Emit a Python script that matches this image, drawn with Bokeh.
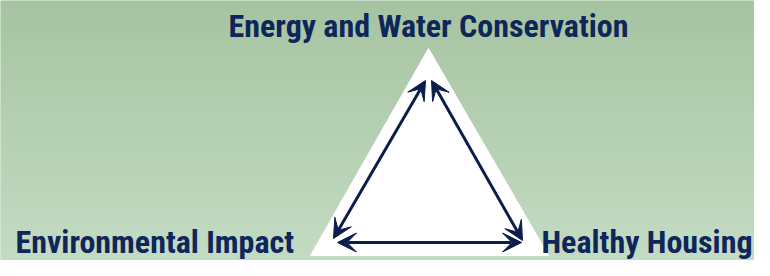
import numpy as np
from bokeh.plotting import figure
from bokeh.models import Range1d, Arrow, VeeHead, ColumnDataSource
from bokeh.core.properties import value
from bokeh.embed import file_html
from bokeh.resources import INLINE

# Diagram data (pixel coordinates of the diagram)
labels = ["Energy and Water Conservation", "Environmental Impact", "Healthy Housing"]
label_x = [428, 15, 752]
label_y = [36, 252, 252]
label_align = ["center", "left", "right"]

tri_x = [428, 310, 548]
tri_y = [48, 255, 255]

arrow_x0 = [333, 431, 337]
arrow_y0 = [238, 80, 242]
arrow_x1 = [425, 522, 521]
arrow_y1 = [80, 240, 242]

W, H = 754, 260
p = figure(width=W, height=H, x_range=Range1d(0, W), y_range=Range1d(H, 0),
           output_backend="svg", toolbar_location=None, min_border=0)
p.axis.visible = False
p.grid.visible = False
p.outline_line_color = None
p.background_fill_color = "#b5d0b2"
p.border_fill_color = "#b5d0b2"

# vertical gradient background
top = np.array([0xa6, 0xc4, 0xa1], dtype=float)
bot = np.array([0xc6, 0xdd, 0xc6], dtype=float)
n = 276
t = np.linspace(0, 1, n)[::-1, None]
cols = (top * (1 - t) + bot * t).astype(np.uint8)
img = np.empty((n, 1), dtype=np.uint32)
view = img.view(dtype=np.uint8).reshape((n, 1, 4))
view[:, 0, 0] = cols[:, 0]
view[:, 0, 1] = cols[:, 1]
view[:, 0, 2] = cols[:, 2]
view[:, 0, 3] = 255
p.image_rgba(image=[img], x=0, y=0, dw=770, dh=276, origin="top_left")

p.patch(tri_x, tri_y, fill_color="white", line_color="white", line_width=1)

navy = "#0b1d4b"
src = ColumnDataSource(dict(x0=arrow_x0, y0=arrow_y0, x1=arrow_x1, y1=arrow_y1))
p.add_layout(Arrow(source=src, x_start="x0", y_start="y0", x_end="x1", y_end="y1",
                   line_color=navy, line_width=3,
                   start=VeeHead(size=19, fill_color=navy, line_color=navy, line_width=1),
                   end=VeeHead(size=19, fill_color=navy, line_color=navy, line_width=1)))

# the svg text sits ~11px below the requested alphabetic baseline; compensate
tsrc = ColumnDataSource(dict(x=label_x, y=[v - 11 for v in label_y], t=labels, a=label_align))
p.text(x="x", y="y", text="t", source=tsrc, text_align="a", text_baseline="alphabetic",
       text_font=value("Roboto Condensed"), text_font_style="bold",
       text_font_size="32px", text_color="#0e2659")

open("out.html", "w").write(file_html(p, INLINE))
